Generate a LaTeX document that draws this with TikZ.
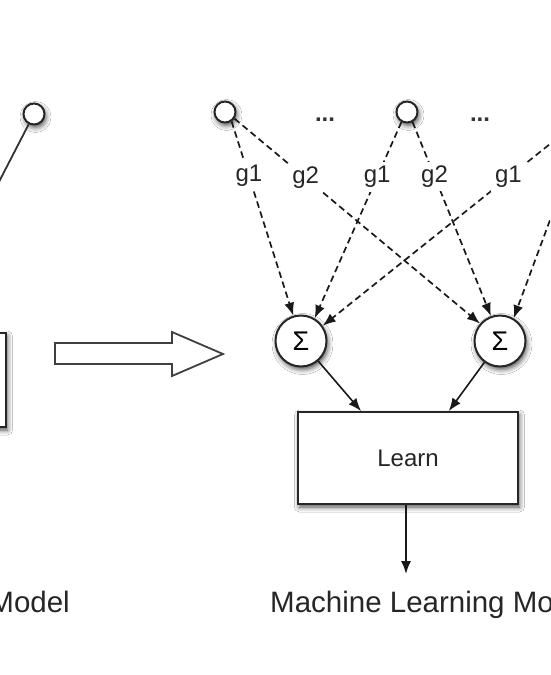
\documentclass[tikz,border=0pt]{standalone}
\usepackage{fontspec}
\setmainfont{Liberation Sans}
\usetikzlibrary{arrows.meta,shadows.blur}
\begin{document}
\begin{tikzpicture}[x=1pt,y=-1pt,
  every node/.style={inner sep=0pt},
  shd/.style={blur shadow={shadow xshift=1.5pt,shadow yshift=-3pt,shadow blur radius=5pt,shadow opacity=70}},
  dot/.style={circle,draw=black!85,line width=2pt,fill=white,minimum size=21pt,shd},
  sig/.style={circle,draw=black!85,line width=2pt,fill=white,minimum size=51pt,shd,font=\fontsize{27}{27}\selectfont},
  box/.style={rectangle,draw=black!85,line width=1.8pt,fill=white,shd},
  lbl/.style={fill=white,inner sep=4pt,font=\fontsize{24}{24}\selectfont,text=black!85},
  dots/.style={font=\fontsize{24}{24}\selectfont\bfseries,anchor=base,text=black!80},
  dasharrow/.style={draw=black!90,line width=1.7pt,dash pattern=on 6.5pt off 4pt,-{Latex[length=13pt,width=10pt]}},
  solidarrow/.style={draw=black!90,line width=1.6pt,-{Latex[length=13pt,width=10pt]}},
  plainline/.style={draw=black!80,line width=1.8pt},
  blockarrow/.style={draw=black!75,line width=1.8pt,fill=white,line join=miter},
  caption/.style={font=\fontsize{29.5}{30}\selectfont,text=black!85}]
\useasboundingbox (0,0) rectangle (550,675);
\clip (0,0) rectangle (550,675);
\fill[white] (0,0) rectangle (550,675);

% left side
\node[dot] (lc) at (34,114) {};
\coordinate (lend) at (-30,238);
\draw[plainline] (lc) -- (lend);
\node[box,minimum width=150pt,minimum height=94pt] (lbox) at (-69,380) {};
\node[caption,anchor=base east] (lcap) at (70,612) {Model};

% block arrow
\draw[blockarrow] (55,343) -- (172,343) -- (172,332) -- (223,354) -- (172,376) -- (172,364) -- (55,364) -- cycle;

% right side
\node[dot] (c1) at (225,112) {};
\node[dot] (c2) at (407,112) {};
\coordinate (c3) at (590,112);
\node[dots] (d1) at (325,121) {...};
\node[dots] (d2) at (480,121) {...};

\node[sig] (s1) at (301,341) {Σ};
\node[sig] (s2) at (500,341) {Σ};

\node[box,minimum width=220pt,minimum height=92pt,font=\fontsize{24}{24}\selectfont,text=black!85] (learn) at (408,458) {Learn};

\draw[dasharrow] (c1.-55) -- node[lbl,pos=0.28] (l1) {g1} (s1.107);
\draw[dasharrow] (c1.-35) -- node[lbl,pos=0.29] (l2) {g2} (s2.139);
\draw[dasharrow] (c2.-119) -- node[lbl,pos=0.28] (l3) {g1} (s1.59);
\draw[dasharrow] (c2.-61) -- node[lbl,pos=0.28] (l4) {g2} (s2.110);
\draw[dasharrow] (c3) -- node[lbl,pos=0.305] (l5) {g1} (s1.35);
\draw[dasharrow] (c3) -- (s2.59);

\draw[solidarrow] (s1) -- (learn.135);
\draw[solidarrow] (s2) -- (learn.49);
\coordinate (out) at (406,574);
\draw[solidarrow] (learn.south -| out) -- (out);

\node[caption,anchor=base west] (rcap) at (270,612) {Machine Learning Model};
\end{tikzpicture}
\end{document}
